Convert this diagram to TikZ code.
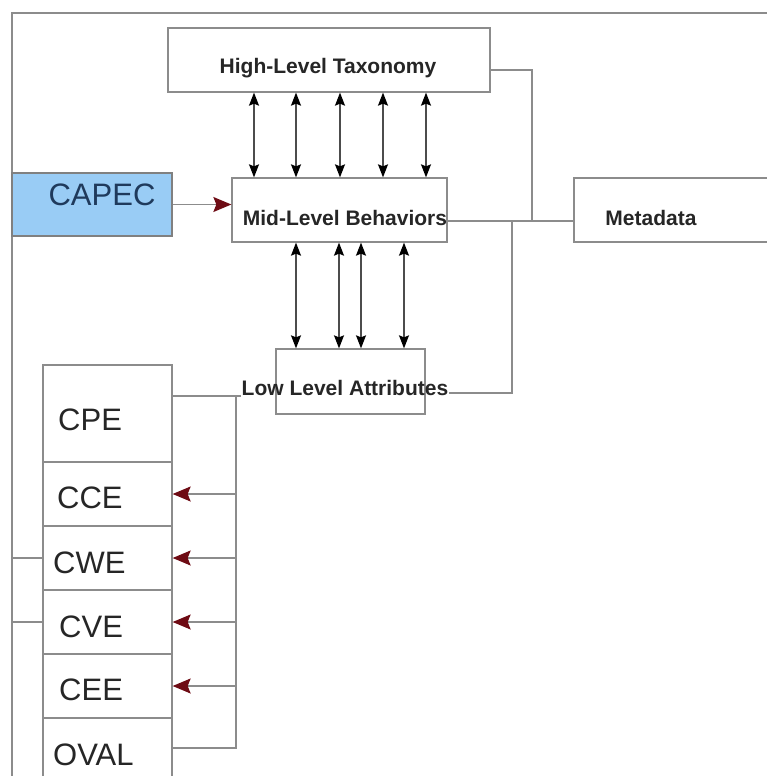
\documentclass[tikz,border=0pt]{standalone}
\usepackage{fontspec}
\setmainfont{Liberation Sans}
\usetikzlibrary{arrows.meta}
\definecolor{wiregray}{HTML}{8C8C8C}
\definecolor{capecblue}{HTML}{99CCF5}
\definecolor{capecink}{HTML}{1F3A5C}
\definecolor{tipred}{HTML}{6E0B14}
\definecolor{inkgray}{HTML}{262626}
\begin{document}
\begin{tikzpicture}[x=1pt,y=-1pt,
    box/.style={draw=wiregray, line width=1.3pt, inner sep=0pt, fill=white},
    lbl/.style={font=\bfseries\fontsize{21}{21}\selectfont, text=inkgray, inner sep=1pt},
    std/.style={font=\fontsize{31}{31}\selectfont, text=inkgray, anchor=west, inner sep=0pt},
    wire/.style={draw=wiregray, line width=1.3pt},
    dbl/.style={wire, draw=black!70, >={Stealth[length=13pt,width=10pt,inset=2pt,color=black]}, <->},
    feed/.style={wire, >={Stealth[length=18pt,width=15pt,inset=3pt,color=tipred]}, ->}]
        \clip (0,0) rectangle (767,776);
        \fill[white] (0,0) rectangle (767,776);
        \draw[wire] (12,776) -- (12,13) -- (767,13);
        % upper part
        \node[box, minimum width=322, minimum height=64] (high) at (329,60) {};
        \node[box, minimum width=215, minimum height=64] (mid) at (339.5,210) {};
        \node[box, minimum width=226, minimum height=64] (meta) at (687,210) {};
        \node[box, minimum width=149, minimum height=65] (low) at (350.5,381.5) {};
        \node[box, fill=capecblue, draw=gray, minimum width=160, minimum height=63] (capec) at (92,204.5) {};
        \node[lbl] (hightxt) at (328,68) {High-Level Taxonomy};
        \node[lbl] (midtxt) at (345,218) {Mid-Level Behaviors};
        \node[lbl] (metatxt) at (651,218) {Metadata};
        \node[lbl] (lowtxt) at (345,388) {Low Level Attributes};
        \node[font=\fontsize{31}{31}\selectfont, text=capecink] (capectxt) at (102,195) {CAPEC};
        % stack
        \node[box, minimum width=129, minimum height=97] (cpe) at (107.5,413.5) {};
        \node[box, minimum width=129, minimum height=64] (cce) at (107.5,494) {};
        \node[box, minimum width=129, minimum height=64] (cwe) at (107.5,558) {};
        \node[box, minimum width=129, minimum height=64] (cve) at (107.5,622) {};
        \node[box, minimum width=129, minimum height=64] (cee) at (107.5,686) {};
        \node[box, minimum width=129, minimum height=72] (oval) at (107.5,754) {};
        \node[std] (cpetxt) at (58,420) {CPE};
        \node[std] (ccetxt) at (57,498) {CCE};
        \node[std] (cwetxt) at (53,563) {CWE};
        \node[std] (cvetxt) at (59,627) {CVE};
        \node[std] (ceetxt) at (59,690) {CEE};
        \node[std] (ovaltxt) at (53,755) {OVAL};
        % connectors
        \coordinate (trunk) at (532,221);
        \coordinate (tap) at (512,221);
        \coordinate (bus) at (236,396);
        \coordinate (busend) at (236,748);
        \coordinate (fl) at (12,0);
        \foreach \x in {254,296,340,383,426}
            \draw[dbl] (\x,0 |- high.south) -- (\x,0 |- mid.north);
        \foreach \x in {296,339,361,404}
            \draw[dbl] (\x,0 |- mid.south) -- (\x,0 |- low.north);
        \draw[feed] (capec.east) -- (capec.east -| mid.west);
        \draw[wire] ([yshift=-10pt]high.east) -| (trunk) -- (meta.west |- trunk);
        \draw[wire] (mid.east |- trunk) -- (trunk);
        \draw[wire] ([yshift=-5pt]lowtxt.east) -| (tap);
        \draw[wire] (cpe.east |- bus) -- (lowtxt.west |- bus);
        \draw[wire] (bus) -- (busend) -- (oval.east |- busend);
        \foreach \n in {cce,cwe,cve,cee}
            \draw[feed] (\n.east -| bus) -- (\n.east);
        \draw[wire] (cwe.west -| fl) -- (cwe.west);
        \draw[wire] (cve.west -| fl) -- (cve.west);
    \end{tikzpicture}
\end{document}
